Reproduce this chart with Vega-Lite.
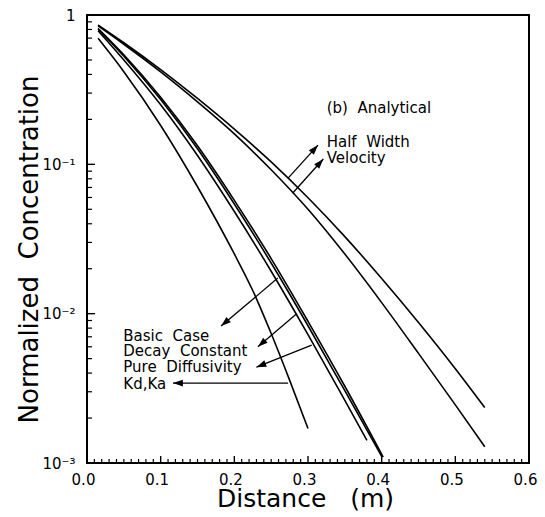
{
  "$schema": "https://vega.github.io/schema/vega-lite/v6.json",
  "width": 442,
  "height": 448,
  "autosize": {"type": "none"},
  "padding": {"left": 87, "top": 15, "right": 16, "bottom": 54},
  "background": "white",
  "config": {
    "view": {"stroke": "black", "strokeWidth": 2},
    "font": "DejaVu Sans",
    "axis": {
      "grid": false,
      "domain": false,
      "ticks": false,
      "labelColor": "black",
      "labelFont": "DejaVu Sans",
      "labelFontSize": 15,
      "titleFont": "DejaVu Sans",
      "titleFontSize": 26,
      "titleFontWeight": "normal",
      "titleColor": "black",
      "labelOverlap": false,
      "labelFlush": false
    }
  },
  "datasets": {
    "curves": [
      {"series": "Half Width", "x": 0.015, "y": 0.857},
      {"series": "Half Width", "x": 0.05, "y": 0.652},
      {"series": "Half Width", "x": 0.10, "y": 0.431},
      {"series": "Half Width", "x": 0.15, "y": 0.276},
      {"series": "Half Width", "x": 0.20, "y": 0.172},
      {"series": "Half Width", "x": 0.25, "y": 0.1038},
      {"series": "Half Width", "x": 0.30, "y": 0.0597},
      {"series": "Half Width", "x": 0.35, "y": 0.0328},
      {"series": "Half Width", "x": 0.40, "y": 0.0172},
      {"series": "Half Width", "x": 0.45, "y": 0.00873},
      {"series": "Half Width", "x": 0.50, "y": 0.00428},
      {"series": "Half Width", "x": 0.54, "y": 0.00235},
      {"series": "Velocity", "x": 0.015, "y": 0.845},
      {"series": "Velocity", "x": 0.05, "y": 0.637},
      {"series": "Velocity", "x": 0.10, "y": 0.416},
      {"series": "Velocity", "x": 0.15, "y": 0.262},
      {"series": "Velocity", "x": 0.20, "y": 0.160},
      {"series": "Velocity", "x": 0.25, "y": 0.092},
      {"series": "Velocity", "x": 0.30, "y": 0.050},
      {"series": "Velocity", "x": 0.35, "y": 0.02506},
      {"series": "Velocity", "x": 0.40, "y": 0.01186},
      {"series": "Velocity", "x": 0.45, "y": 0.00542},
      {"series": "Velocity", "x": 0.50, "y": 0.00245},
      {"series": "Velocity", "x": 0.54, "y": 0.001285},
      {"series": "Basic Case", "x": 0.015, "y": 0.785},
      {"series": "Basic Case", "x": 0.05, "y": 0.500},
      {"series": "Basic Case", "x": 0.10, "y": 0.2506},
      {"series": "Basic Case", "x": 0.15, "y": 0.1146},
      {"series": "Basic Case", "x": 0.20, "y": 0.0483},
      {"series": "Basic Case", "x": 0.25, "y": 0.01923},
      {"series": "Basic Case", "x": 0.30, "y": 0.00723},
      {"series": "Basic Case", "x": 0.35, "y": 0.002624},
      {"series": "Basic Case", "x": 0.38, "y": 0.001419},
      {"series": "Decay Constant", "x": 0.015, "y": 0.804},
      {"series": "Decay Constant", "x": 0.05, "y": 0.530},
      {"series": "Decay Constant", "x": 0.10, "y": 0.2716},
      {"series": "Decay Constant", "x": 0.15, "y": 0.1271},
      {"series": "Decay Constant", "x": 0.20, "y": 0.0542},
      {"series": "Decay Constant", "x": 0.25, "y": 0.02183},
      {"series": "Decay Constant", "x": 0.30, "y": 0.0083},
      {"series": "Decay Constant", "x": 0.35, "y": 0.003048},
      {"series": "Decay Constant", "x": 0.400, "y": 0.001109},
      {"series": "Pure Diffusivity", "x": 0.015, "y": 0.813},
      {"series": "Pure Diffusivity", "x": 0.05, "y": 0.542},
      {"series": "Pure Diffusivity", "x": 0.10, "y": 0.2812},
      {"series": "Pure Diffusivity", "x": 0.15, "y": 0.1330},
      {"series": "Pure Diffusivity", "x": 0.20, "y": 0.0574},
      {"series": "Pure Diffusivity", "x": 0.25, "y": 0.02339},
      {"series": "Pure Diffusivity", "x": 0.30, "y": 0.00889},
      {"series": "Pure Diffusivity", "x": 0.35, "y": 0.003266},
      {"series": "Pure Diffusivity", "x": 0.402, "y": 0.001096},
      {"series": "Kd,Ka", "x": 0.015, "y": 0.698},
      {"series": "Kd,Ka", "x": 0.05, "y": 0.417},
      {"series": "Kd,Ka", "x": 0.10, "y": 0.182},
      {"series": "Kd,Ka", "x": 0.15, "y": 0.0708},
      {"series": "Kd,Ka", "x": 0.20, "y": 0.0251},
      {"series": "Kd,Ka", "x": 0.225, "y": 0.01429},
      {"series": "Kd,Ka", "x": 0.25, "y": 0.00736},
      {"series": "Kd,Ka", "x": 0.275, "y": 0.00359},
      {"series": "Kd,Ka", "x": 0.30, "y": 0.0017}
    ],
    "arrows": [
      {"name": "Half Width", "tail_x": 0.273, "tail_y": 0.0809, "tip_x": 0.3136, "tip_y": 0.1346, "angle": 42},
      {"name": "Velocity", "tail_x": 0.279, "tail_y": 0.064, "tip_x": 0.3208, "tip_y": 0.1085, "angle": 42},
      {"name": "Basic Case", "tail_x": 0.259, "tail_y": 0.0173, "tip_x": 0.182, "tip_y": 0.00826, "angle": 230},
      {"name": "Decay Constant", "tail_x": 0.285, "tail_y": 0.01004, "tip_x": 0.232, "tip_y": 0.006, "angle": 229},
      {"name": "Pure Diffusivity", "tail_x": 0.305, "tail_y": 0.00616, "tip_x": 0.230, "tip_y": 0.00438, "angle": 248},
      {"name": "Kd,Ka", "tail_x": 0.273, "tail_y": 0.00343, "tip_x": 0.1167, "tip_y": 0.00343, "angle": 270}
    ],
    "labels": [
      {"text": "(b)\u00a0\u00a0Analytical", "x": 0.3254, "y": 0.2196},
      {"text": "Half\u00a0\u00a0Width", "x": 0.3254, "y": 0.1312},
      {"text": "Velocity", "x": 0.3254, "y": 0.1025},
      {"text": "Basic\u00a0\u00a0Case", "x": 0.0493, "y": 0.00659},
      {"text": "Decay\u00a0\u00a0Constant", "x": 0.0493, "y": 0.0052},
      {"text": "Pure\u00a0\u00a0Diffusivity", "x": 0.0493, "y": 0.00408},
      {"text": "Kd,Ka", "x": 0.0493, "y": 0.00311}
    ],
    "xminor": [
      {"x": 0.01}, {"x": 0.02}, {"x": 0.03}, {"x": 0.04}, {"x": 0.05}, {"x": 0.06}, {"x": 0.07}, {"x": 0.08}, {"x": 0.09},
      {"x": 0.11}, {"x": 0.12}, {"x": 0.13}, {"x": 0.14}, {"x": 0.15}, {"x": 0.16}, {"x": 0.17}, {"x": 0.18}, {"x": 0.19},
      {"x": 0.21}, {"x": 0.22}, {"x": 0.23}, {"x": 0.24}, {"x": 0.25}, {"x": 0.26}, {"x": 0.27}, {"x": 0.28}, {"x": 0.29},
      {"x": 0.31}, {"x": 0.32}, {"x": 0.33}, {"x": 0.34}, {"x": 0.35}, {"x": 0.36}, {"x": 0.37}, {"x": 0.38}, {"x": 0.39},
      {"x": 0.41}, {"x": 0.42}, {"x": 0.43}, {"x": 0.44}, {"x": 0.45}, {"x": 0.46}, {"x": 0.47}, {"x": 0.48}, {"x": 0.49},
      {"x": 0.51}, {"x": 0.52}, {"x": 0.53}, {"x": 0.54}, {"x": 0.55}, {"x": 0.56}, {"x": 0.57}, {"x": 0.58}, {"x": 0.59}
    ],
    "xmajor": [{"x": 0.1}, {"x": 0.2}, {"x": 0.3}, {"x": 0.4}, {"x": 0.5}],
    "yminor": [
      {"y": 0.002}, {"y": 0.003}, {"y": 0.004}, {"y": 0.005}, {"y": 0.006}, {"y": 0.007}, {"y": 0.008}, {"y": 0.009},
      {"y": 0.02}, {"y": 0.03}, {"y": 0.04}, {"y": 0.05}, {"y": 0.06}, {"y": 0.07}, {"y": 0.08}, {"y": 0.09},
      {"y": 0.2}, {"y": 0.3}, {"y": 0.4}, {"y": 0.5}, {"y": 0.6}, {"y": 0.7}, {"y": 0.8}, {"y": 0.9}
    ],
    "ymajor": [{"y": 0.01}, {"y": 0.1}]
  },
  "layer": [
    {
      "data": {"name": "curves"},
      "mark": {"type": "line", "color": "black", "strokeWidth": 1.6, "interpolate": "monotone", "clip": true},
      "encoding": {
        "x": {
          "field": "x", "type": "quantitative", "title": "Distance \u00a0 (m)",
          "scale": {"domain": [0, 0.6], "nice": false, "zero": false},
          "axis": {
            "orient": "bottom",
            "title": "Distance \u00a0 (m)",
            "titleFontSize": 25,
            "titleX": 218, "titleY": 43, "titleAlign": "center", "titleBaseline": "alphabetic",
            "values": [0, 0.1, 0.2, 0.3, 0.4, 0.5, 0.6],
            "format": ".1f",
            "ticks": false,
            "labelPadding": 9,
            "labelOffset": -4
          }
        },
        "y": {
          "field": "y", "type": "quantitative", "title": "Normalized \u00a0Concentration",
          "scale": {"type": "log", "domain": [0.001, 1], "nice": false},
          "axis": {
            "orient": "left",
            "title": "Normalized \u00a0Concentration",
            "titleX": -50, "titleY": 234, "titleAlign": "center", "titleBaseline": "alphabetic", "titleAngle": -90,
            "values": [0.001, 0.01, 0.1, 1],
            "labelExpr": "datum.value == 1 ? '1' : datum.value == 0.1 ? '10⁻¹' : datum.value == 0.01 ? '10⁻²' : '10⁻³'",
            "ticks": false,
            "labelPadding": 12
          }
        },
        "detail": {"field": "series"}
      }
    },
    {
      "data": {"name": "xminor"},
      "mark": {"type": "rule", "color": "black", "strokeWidth": 1.2},
      "encoding": {
        "x": {"field": "x", "type": "quantitative", "title": "Distance \u00a0 (m)"},
        "y": {"datum": 0.001, "type": "quantitative", "title": "Normalized \u00a0Concentration"},
        "y2": {"datum": 0.001064}
      }
    },
    {
      "data": {"name": "xmajor"},
      "mark": {"type": "rule", "color": "black", "strokeWidth": 1.4},
      "encoding": {
        "x": {"field": "x", "type": "quantitative", "title": "Distance \u00a0 (m)"},
        "y": {"datum": 0.001, "type": "quantitative", "title": "Normalized \u00a0Concentration"},
        "y2": {"datum": 0.001114}
      }
    },
    {
      "data": {"name": "yminor"},
      "mark": {"type": "rule", "color": "black", "strokeWidth": 1.2},
      "encoding": {
        "y": {"field": "y", "type": "quantitative", "title": "Normalized \u00a0Concentration"},
        "x": {"datum": 0, "type": "quantitative", "title": "Distance \u00a0 (m)"},
        "x2": {"datum": 0.0068}
      }
    },
    {
      "data": {"name": "ymajor"},
      "mark": {"type": "rule", "color": "black", "strokeWidth": 1.4},
      "encoding": {
        "y": {"field": "y", "type": "quantitative", "title": "Normalized \u00a0Concentration"},
        "x": {"datum": 0, "type": "quantitative", "title": "Distance \u00a0 (m)"},
        "x2": {"datum": 0.0109}
      }
    },
    {
      "data": {"name": "arrows"},
      "mark": {"type": "rule", "color": "black", "strokeWidth": 1.3},
      "encoding": {
        "x": {"field": "tail_x", "type": "quantitative", "title": "Distance \u00a0 (m)"},
        "y": {"field": "tail_y", "type": "quantitative", "title": "Normalized \u00a0Concentration"},
        "x2": {"field": "tip_x"},
        "y2": {"field": "tip_y"}
      }
    },
    {
      "data": {"name": "arrows"},
      "mark": {"type": "point", "shape": "M0,0L0.75,2.2L-0.75,2.2Z", "filled": true, "color": "black", "opacity": 1, "size": 81},
      "encoding": {
        "x": {"field": "tip_x", "type": "quantitative", "title": "Distance \u00a0 (m)"},
        "y": {"field": "tip_y", "type": "quantitative", "title": "Normalized \u00a0Concentration"},
        "angle": {"field": "angle", "type": "quantitative", "scale": null}
      }
    },
    {
      "data": {"name": "labels"},
      "mark": {"type": "text", "align": "left", "baseline": "alphabetic", "font": "DejaVu Sans", "fontSize": 15, "color": "black"},
      "encoding": {
        "x": {"field": "x", "type": "quantitative", "title": "Distance \u00a0 (m)"},
        "y": {"field": "y", "type": "quantitative", "title": "Normalized \u00a0Concentration"},
        "text": {"field": "text"}
      }
    }
  ]
}
